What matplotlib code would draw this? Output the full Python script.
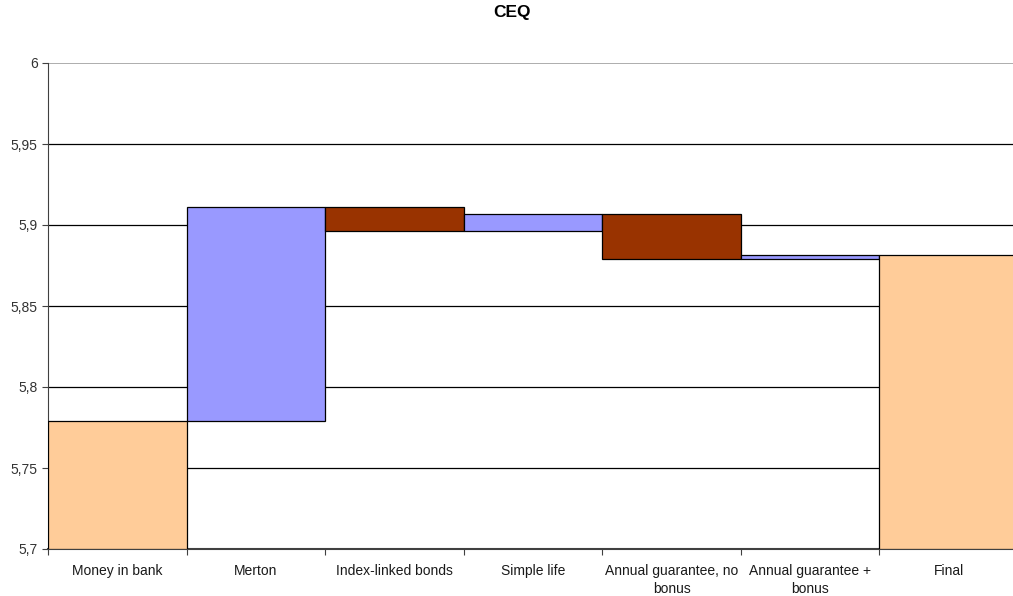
import numpy as np
import matplotlib
matplotlib.use("Agg")
import matplotlib.pyplot as plt
from matplotlib.ticker import FuncFormatter

plt.rcParams['font.family'] = ['Liberation Sans', 'DejaVu Sans']

# dados do waterfall (CEQ)
categorias = ["Money in bank", "Merton", "Index-linked bonds", "Simple life",
              "Annual guarantee, no\nbonus", "Annual guarantee +\nbonus", "Final"]
inicio = 5.779
variacoes = [0.132, -0.015, 0.011, -0.028, 0.0025]
final = 5.8815
base_y = 5.7

cor_total = "#FFCC99"
cor_sobe = "#9999FF"
cor_desce = "#993300"

# montando as barras flutuantes
niveis = inicio + np.cumsum([0] + variacoes)
baixo = [base_y]
altura = [inicio - base_y]
cores = [cor_total]
for i, d in enumerate(variacoes):
    a, b = niveis[i], niveis[i + 1]
    baixo.append(min(a, b))
    altura.append(abs(d))
    cores.append(cor_sobe if d > 0 else cor_desce)
baixo.append(base_y)
altura.append(final - base_y)
cores.append(cor_total)

fig = plt.figure(figsize=(10.13, 5.96), dpi=100)
ax = fig.add_axes([48 / 1013, 1 - 549 / 596, 970 / 1013, 486 / 596])

x = np.arange(len(categorias))
ax.set_xlim(-0.5, len(categorias) - 0.5)
ax.set_ylim(5.7, 6.0)

yt = [5.7, 5.75, 5.8, 5.85, 5.9, 5.95, 6.0]
for v in yt[1:-1]:
    ax.axhline(v, color="black", lw=0.9, zorder=1)
ax.axhline(6.0, color="#A0A0A0", lw=1.2, zorder=1)

ax.bar(x, altura, bottom=baixo, width=1.0, color=cores, edgecolor="black",
       linewidth=0.9, zorder=3)

ax.set_yticks(yt)
ax.yaxis.set_major_formatter(FuncFormatter(lambda v, p: ("%g" % round(v, 2)).replace(".", ",")))
ax.set_xticks(np.arange(len(categorias) + 1) - 0.5)
ax.set_xticklabels([])
ax.set_xticks(x, minor=True)
ax.set_xticklabels(categorias, minor=True, fontsize=10, color="#1a1a1a", linespacing=1.3)
ax.tick_params(axis="x", which="minor", length=0, pad=11)
ax.tick_params(axis="x", which="major", length=4, color="#404040", direction="out")
ax.tick_params(axis="y", length=4, color="#404040", labelsize=10, labelcolor="#333333")

for s in ["top", "right"]:
    ax.spines[s].set_visible(False)
ax.spines["left"].set_color("#404040")
ax.spines["bottom"].set_color("#404040")
ax.spines["bottom"].set_linewidth(1.5)

fig.text(512 / 1013, 1 - 12 / 596, "CEQ", ha="center", va="center",
         fontsize=12.5, fontweight="bold")

plt.savefig("out.png", dpi=100)
